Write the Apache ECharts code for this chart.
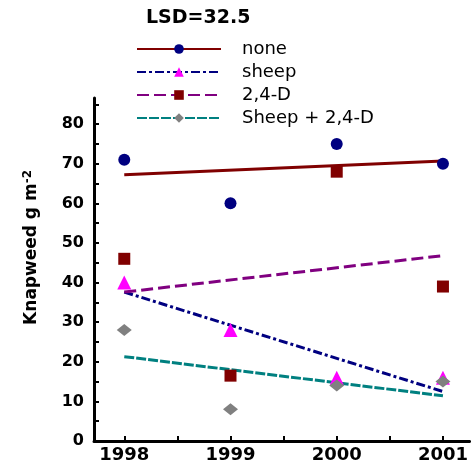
<!DOCTYPE html>
<html><head><meta charset="utf-8">
<script src="https://cdn.jsdelivr.net/npm/echarts@6/dist/echarts.min.js"></script>
<style>html,body{margin:0;padding:0;background:#fff}#c{width:471px;height:465px}</style>
</head><body><div id="c"></div>
<script>
const years = [1998, 1999, 2000, 2001];
const seriesNames = ['none', 'sheep', '2,4-D', 'Sheep + 2,4-D'];
const noneVals = [71, 60, 75, 70];
const sheepVals = [40, 28, 16, 16];
const d24Vals = [46, 16.5, 68, 39];
const sheepD24Vals = [28, 8, 14, 15];
// trend line end values (at first and last year)
const trendYears = [1998, 2001];
const noneTrend = [67.2, 70.7];
const sheepTrend = [37.6, 12.5];
const d24Trend = [37.6, 46.8];
const sheepD24Trend = [21.3, 11.4];
const yTickVals = [0,5,10,15,20,25,30,35,40,45,50,55,60,65,70,75,80,85];
const yLabelVals = [0,10,20,30,40,50,60,70,80];
const xTickVals = [1998,1998.5,1999,1999.5,2000,2000.5,2001];
const titleText = 'LSD=32.5';

const pts = v => years.map((y,i)=>[y, v[i]]);
const tr = v => trendYears.map((y,i)=>[y, v[i]]);

const styles = [
  {marker:'circle', size:12, mcolor:'#000080', lcolor:'#800000', dash:'solid'},
  {marker:'triangle', size:14, mcolor:'#ff00ff', lcolor:'#000080', dash:[9,3,3,3]},
  {marker:'rect', size:12, mcolor:'#800000', lcolor:'#800080', dash:[12,5]},
  {marker:'diamond', size:[15,12], mcolor:'#808080', lcolor:'#008080', dash:[10,2]}
];
const vals = [noneVals, sheepVals, d24Vals, sheepD24Vals];
const trends = [noneTrend, sheepTrend, d24Trend, sheepD24Trend];

const series = [];
seriesNames.forEach((n,i)=>{
  const s = styles[i];
  series.push({
    name: n, type:'line', data: tr(trends[i]), showSymbol:false,
    symbol: s.marker, symbolSize: s.size,
    itemStyle:{color:s.mcolor},
    lineStyle:{color:s.lcolor, width:3, type:s.dash},
    silent:true, z:2
  });
});
seriesNames.forEach((n,i)=>{
  const s = styles[i];
  series.push({
    name: n+' pts', type:'scatter', data: pts(vals[i]),
    symbol: s.marker, symbolSize: s.size,
    itemStyle:{color:s.mcolor, opacity:1}, z:3
  });
});

const chart = echarts.init(document.getElementById('c'), null, {renderer:'canvas'});
chart.setOption({
  animation:false,
  title:{text:titleText, left:141, top:4, textStyle:{fontFamily:'DejaVu Sans', fontWeight:'bold', fontSize:19, color:'#000'}},
  legend:{
    data: seriesNames, orient:'vertical', left:131, top:35,
    itemWidth:84, itemHeight:12, itemGap:5,
    textStyle:{fontFamily:'DejaVu Sans', fontSize:18, color:'#000', lineHeight:18, padding:[0,0,0,16]}
  },
  graphic:[{
    type:'text', left:22, top:170, rotation:Math.PI/2,
    style:{
      text:'Knapweed g m{s|-2}',
      rich:{s:{fontFamily:'DejaVu Sans', fontWeight:'bold', fontSize:12, verticalAlign:'top', padding:[0,0,8,0]}},
      fontFamily:'DejaVu Sans', fontWeight:'bold', fontSize:17, fill:'#000'
    }
  }],
  grid:{left:94, right:1, top:98, bottom:24, containLabel:false},
  xAxis:{
    type:'value', min:1997.715, max:2001.25,
    axisLine:{lineStyle:{color:'#000', width:3}},
    axisTick:{inside:true, length:5, lineStyle:{color:'#000', width:2}, customValues:xTickVals},
    axisLabel:{customValues:years, formatter:v=>String(v), margin:5, fontFamily:'DejaVu Sans', fontWeight:'bold', fontSize:18, color:'#000'},
    splitLine:{show:false}
  },
  yAxis:{
    type:'value', min:0, max:86.6,
    axisLine:{show:true, lineStyle:{color:'#000', width:3}},
    axisTick:{show:true, inside:true, length:5, lineStyle:{color:'#000', width:2}, customValues:yTickVals},
    axisLabel:{customValues:yLabelVals, margin:10, fontFamily:'DejaVu Sans', fontWeight:'bold', fontSize:16, color:'#000'},
    splitLine:{show:false}
  },
  series: series
});
</script></body></html>
